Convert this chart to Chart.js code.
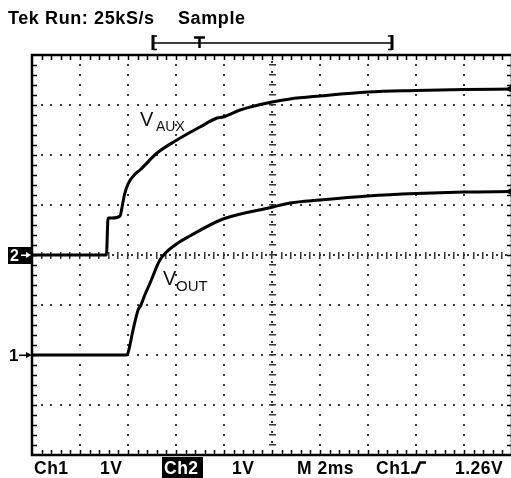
<!DOCTYPE html>
<html><head><meta charset="utf-8">
<script src="https://cdn.jsdelivr.net/npm/chart.js@4"></script>
<style>
html,body{margin:0;padding:0;background:#fff;overflow:hidden;width:511px;height:478px}
#wrap{position:absolute;left:0;top:0;width:520px;height:478px}
</style></head>
<body><div id="wrap"><canvas id="c" width="520" height="478"></canvas></div>
<script>
// ---- data (time in ms, 2 ms/div; volts, 1 V/div) ----
const auxTime  = [0, 3.1, 3.17, 3.35, 3.67, 3.75, 3.85, 4.0, 4.3, 4.5, 5.21, 6.04, 7.0, 7.71, 7.96, 8.67, 10.0, 10.75, 12, 14, 16, 18, 20];
const auxVolts = [0, 0, 0.74, 0.74, 0.78, 0.95, 1.2, 1.42, 1.62, 1.7, 2.04, 2.3, 2.56, 2.74, 2.76, 2.9, 3.06, 3.12, 3.18, 3.26, 3.29, 3.31, 3.32];
const outTime  = [0, 3.95, 4.0, 4.21, 4.42, 4.54, 4.7, 4.92, 5.33, 5.96, 6.58, 7.96, 10.04, 10.75, 12, 14, 16, 18, 20];
const outVolts = [0, 0, 0.04, 0.5, 0.9, 1.0, 1.2, 1.44, 1.9, 2.2, 2.38, 2.72, 2.96, 3.04, 3.1, 3.18, 3.23, 3.26, 3.27];
const timeRange = [0, 20];        // 10 divisions x 2 ms
const ch1Range  = [-2, 6];        // Ch1 ground 2 div above bottom
const ch2Range  = [-4, 4];        // Ch2 ground at centre
const headerLabels = ["Tek Run: 25kS/s", "Sample"];
const footerLabels = ["Ch1", "1V", "Ch2", "1V", "M 2ms", "Ch1", "1.26V"];
const traceNames = ["V", "AUX", "V", "OUT"];

const pts = (xs, ys) => xs.map((t, i) => ({x: t, y: ys[i]}));
const lastMarker = n => Array.from({length: n}, (_, i) => i === n - 1 ? 4 : 0);

const graticule = {
  id: 'graticule',
  beforeDatasetsDraw(chart) {
    const {ctx, chartArea: a, scales: {x, y2}} = chart;
    ctx.save();
    ctx.fillStyle = '#3a3a3a';
    // dotted division lines
    for (let t = 2; t < 20; t += 2) {
      if (t === 10) continue;
      const px = Math.round(x.getPixelForValue(t));
      for (let k = 1; k < 40; k++) {
        const py = Math.round(y2.getPixelForValue(-4 + k * 0.2));
        ctx.fillRect(px - 1, py - 1, 2, 2);
      }
    }
    for (let v = -3; v <= 3; v++) {
      if (v === 0) continue;
      const py = Math.round(y2.getPixelForValue(v));
      for (let k = 1; k < 50; k++) {
        const px = Math.round(x.getPixelForValue(k * 0.4));
        ctx.fillRect(px - 1, py - 1, 2, 2);
      }
    }
    // centre crosshair with minor ticks
    const cx = Math.round(x.getPixelForValue(10));
    const cy = Math.round(y2.getPixelForValue(0));
    ctx.fillStyle = '#333';
    for (let k = 1; k < 40; k++) {
      const py = Math.round(y2.getPixelForValue(-4 + k * 0.2));
      ctx.fillRect(cx - 3, py - 1, 7, 1.5);
      ctx.fillRect(cx - 1, py - 4, 2, 2);
    }
    for (let k = 1; k < 50; k++) {
      const px = Math.round(x.getPixelForValue(k * 0.4));
      ctx.fillRect(px - 1, cy - 3, 1.5, 7);
      ctx.fillRect(px + 3, cy - 1, 2, 2);
    }
    // frame
    ctx.strokeStyle = '#000';
    ctx.lineWidth = 2.5;
    ctx.strokeRect(a.left, a.top, a.right - a.left, a.bottom - a.top);
    ctx.lineWidth = 1.5;
    ctx.beginPath();
    for (let k = 1; k < 50; k++) {
      const px = Math.round(x.getPixelForValue(k * 0.4)) + 0.5;
      ctx.moveTo(px, a.top); ctx.lineTo(px, a.top + 5);
      ctx.moveTo(px, a.bottom); ctx.lineTo(px, a.bottom - 5);
    }
    for (let k = 1; k < 40; k++) {
      const py = Math.round(y2.getPixelForValue(-4 + k * 0.2)) + 0.5;
      ctx.moveTo(a.left, py); ctx.lineTo(a.left + 5, py);
      ctx.moveTo(a.right, py); ctx.lineTo(a.right - 5, py);
    }
    ctx.stroke();
    ctx.restore();
  },
  afterDraw(chart) {
    const {ctx, scales: {y1, y2}} = chart;
    ctx.save();
    ctx.fillStyle = '#000';
    ctx.textBaseline = 'alphabetic';
    ctx.font = 'bold 18px "Liberation Sans", Arial, sans-serif';
    ctx.letterSpacing = '0.6px';
    ctx.fillText(headerLabels[0], 8, 24);
    ctx.fillText(headerLabels[1], 178, 24);
    // record bar
    ctx.letterSpacing = '0px';
    ctx.strokeStyle = '#000';
    ctx.lineWidth = 3;
    ctx.beginPath();
    ctx.moveTo(153, 35); ctx.lineTo(153, 50);
    ctx.moveTo(392, 35); ctx.lineTo(392, 50);
    ctx.stroke();
    ctx.lineWidth = 1.5;
    ctx.beginPath();
    ctx.moveTo(153, 36); ctx.lineTo(157, 36);
    ctx.moveTo(153, 49.5); ctx.lineTo(157, 49.5);
    ctx.moveTo(392, 36); ctx.lineTo(388, 36);
    ctx.moveTo(392, 49.5); ctx.lineTo(388, 49.5);
    ctx.moveTo(153, 43); ctx.lineTo(392, 43);
    ctx.stroke();
    ctx.lineWidth = 2.5;
    ctx.beginPath();
    ctx.moveTo(194, 37.5); ctx.lineTo(205, 37.5);
    ctx.moveTo(199.5, 37); ctx.lineTo(199.5, 48);
    ctx.stroke();
    // footer
    const fy = 474;
    ctx.font = 'bold 17.5px "Liberation Sans", Arial, sans-serif';
    ctx.letterSpacing = '0.5px';
    ctx.fillText(footerLabels[0], 34, fy);
    ctx.fillText(footerLabels[1], 100, fy);
    ctx.fillRect(162, 457, 41, 21);
    ctx.fillStyle = '#fff';
    ctx.fillText(footerLabels[2], 164, fy);
    ctx.fillStyle = '#000';
    ctx.fillText(footerLabels[3], 232, fy);
    ctx.fillText(footerLabels[4], 297, fy);
    ctx.fillText(footerLabels[5], 376, fy);
    ctx.fillText(footerLabels[6], 455, fy);
    ctx.letterSpacing = '0px';
    ctx.lineWidth = 2.5;
    ctx.beginPath();
    ctx.moveTo(411, 472.5); ctx.lineTo(416, 472.5);
    ctx.lineTo(420, 462.5); ctx.lineTo(426, 462.5);
    ctx.stroke();
    // ground markers
    const g2 = Math.round(y2.getPixelForValue(0));
    const g1 = Math.round(y1.getPixelForValue(0));
    ctx.fillRect(8, g2 - 8, 24, 17);
    ctx.fillStyle = '#fff';
    ctx.font = 'bold 16px "Liberation Sans", Arial, sans-serif';
    ctx.fillText('2', 10, g2 + 6);
    ctx.fillRect(21, g2 - 0.5, 6, 1.5);
    ctx.beginPath(); ctx.moveTo(26, g2 - 3); ctx.lineTo(31, g2); ctx.lineTo(26, g2 + 3); ctx.fill();
    ctx.fillStyle = '#000';
    ctx.font = 'bold 17px "Liberation Sans", Arial, sans-serif';
    ctx.fillText('1', 9, g1 + 6);
    ctx.fillRect(19, g1 - 0.5, 8, 1.5);
    ctx.beginPath(); ctx.moveTo(26, g1 - 3); ctx.lineTo(32, g1); ctx.lineTo(26, g1 + 3); ctx.fill();
    // trace labels
    ctx.fillStyle = '#111';
    ctx.font = '20px "Liberation Sans", Arial, sans-serif';
    ctx.fillText(traceNames[0], 140, 126);
    ctx.font = '14px "Liberation Sans", Arial, sans-serif';
    ctx.fillText(traceNames[1], 156, 131);
    ctx.font = '20px "Liberation Sans", Arial, sans-serif';
    ctx.fillText(traceNames[2], 163, 285);
    ctx.font = '15px "Liberation Sans", Arial, sans-serif';
    ctx.fillText(traceNames[3], 176, 291);
    ctx.restore();
  }
};

new Chart(document.getElementById('c'), {
  type: 'line',
  data: {
    datasets: [
      {label: 'VAUX (Ch2)', data: pts(auxTime, auxVolts), yAxisID: 'y2',
       borderColor: '#000', borderWidth: 3, cubicInterpolationMode: 'monotone',
       pointRadius: lastMarker(auxTime.length), pointStyle: 'triangle', pointRotation: 270,
       pointBackgroundColor: '#000', pointBorderColor: '#000'},
      {label: 'VOUT (Ch1)', data: pts(outTime, outVolts), yAxisID: 'y1',
       borderColor: '#000', borderWidth: 3, cubicInterpolationMode: 'monotone',
       pointRadius: lastMarker(outTime.length), pointStyle: 'triangle', pointRotation: 270,
       pointBackgroundColor: '#000', pointBorderColor: '#000'}
    ]
  },
  options: {
    responsive: false,
    animation: false,
    events: [],
    layout: {padding: {left: 32, top: 55, right: 8, bottom: 23}},
    plugins: {legend: {display: false}, tooltip: {enabled: false}},
    scales: {
      x: {type: 'linear', min: timeRange[0], max: timeRange[1], display: false},
      y1: {type: 'linear', min: ch1Range[0], max: ch1Range[1], display: false},
      y2: {type: 'linear', min: ch2Range[0], max: ch2Range[1], display: false}
    }
  },
  plugins: [graticule]
});
</script>
</body></html>
